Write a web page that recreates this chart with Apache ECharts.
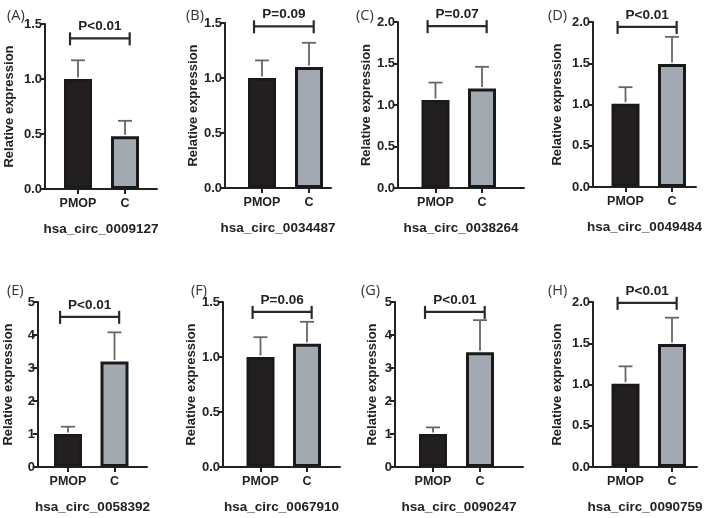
<!DOCTYPE html>
<html>
<head>
<meta charset="utf-8">
<script src="https://cdn.jsdelivr.net/npm/echarts@6/dist/echarts.min.js"></script>
<style>html,body{margin:0;padding:0;background:#fff;}#c{width:709px;height:518px;}</style>
</head>
<body>
<div id="c"></div>
<script>
// ---- data ----
const panelLabels = ['(A)', '(B)', '(C)', '(D)', '(E)', '(F)', '(G)', '(H)'];
const genes = ['hsa_circ_0009127', 'hsa_circ_0034487', 'hsa_circ_0038264', 'hsa_circ_0049484',
               'hsa_circ_0058392', 'hsa_circ_0067910', 'hsa_circ_0090247', 'hsa_circ_0090759'];
const groups = ['PMOP', 'C'];
const pmopMean = [1.00, 1.00, 1.06, 1.01, 1.00, 1.00, 1.00, 1.01];
const pmopErr  = [0.17, 0.16, 0.21, 0.20, 0.22, 0.18, 0.20, 0.21];
const cMean    = [0.48, 1.10, 1.20, 1.49, 3.20, 1.12, 3.48, 1.49];
const cErr     = [0.14, 0.22, 0.26, 0.33, 0.88, 0.20, 0.97, 0.32];
const pValues  = ['P<0.01', 'P=0.09', 'P=0.07', 'P<0.01', 'P<0.01', 'P=0.06', 'P<0.01', 'P<0.01'];
const yMax     = [1.5, 1.5, 2, 2, 5, 1.5, 5, 2];
const yStep    = [0.5, 0.5, 0.5, 0.5, 1, 0.5, 1, 0.5];
const bracketLevel = [1.37, 1.47, 1.95, 1.94, 4.55, 1.41, 4.70, 1.99];
const bracketSpan = [-0.17, 1.1];

// ---- layout (pixels) ----
// axisLeft, axisRight, top, bottom, PMOP centre, C centre, y-name gap
const layout = [
  [45, 157, 24, 189, 78, 125, 29],
  [225, 331, 23, 188, 262, 309, 24.5],
  [398, 524, 22, 188, 435.5, 482, 24],
  [593, 696, 22, 187, 625.5, 672, 29],
  [38, 147, 302, 467, 68, 114.5, 23],
  [223, 340, 302, 467, 260.5, 307, 24],
  [395, 523, 302, 467, 433, 480, 16],
  [593, 697, 302, 467, 625.5, 672, 29]
];
const labelPos = [[2, 3], [181, 3], [351, 3], [543, 3], [2, 278], [186, 278], [356, 278], [543, 278]];

const FONT = 'Liberation Sans, Arial, sans-serif';
const chart = echarts.init(document.getElementById('c'), null, {renderer: 'canvas'});

const grids = [], xAxes = [], yAxes = [], series = [], titles = [];
for (let i = 0; i < 8; i++) {
  const [L, R, T, B, p, c, yGap] = layout[i];
  const unit = c - p;
  grids.push({left: L, top: T, width: R - L, height: B - T, containLabel: false});
  const dec = yStep[i] < 1 ? 1 : 0;
  xAxes.push({
    type: 'value', gridIndex: i,
    min: -(p - L) / unit, max: 1 + (R - c) / unit,
    splitLine: {show: false},
    axisLine: {show: true, onZero: false, lineStyle: {color: '#222', width: 2}},
    axisTick: {show: true, customValues: [0, 1], length: 5, lineStyle: {color: '#222', width: 2}},
    axisLabel: {show: true, customValues: [0, 1], formatter: v => groups[Math.round(v)],
      color: '#222', fontFamily: FONT, fontWeight: 'bold', fontSize: 12.5, margin: 8},
    name: genes[i], nameLocation: 'middle', nameGap: 33,
    nameTextStyle: {color: '#222', fontFamily: FONT, fontWeight: 'bold', fontSize: 13.5}
  });
  yAxes.push({
    type: 'value', gridIndex: i, min: 0, max: yMax[i], interval: yStep[i],
    splitLine: {show: false},
    axisLine: {show: true, onZero: false, lineStyle: {color: '#222', width: 2}},
    axisTick: {show: true, length: 5, lineStyle: {color: '#222', width: 2}},
    axisLabel: {formatter: v => v.toFixed(dec), color: '#222', fontFamily: FONT,
      fontWeight: 'bold', fontSize: 13, margin: 3},
    name: 'Relative expression', nameLocation: 'middle', nameGap: yGap,
    nameTextStyle: {color: '#222', fontFamily: FONT, fontWeight: 'bold', fontSize: 13}
  });
  series.push({
    type: 'bar', xAxisIndex: i, yAxisIndex: i, barWidth: 28,
    data: [
      {value: [0, pmopMean[i]], itemStyle: {color: '#231f20', borderColor: '#1a1a1a', borderWidth: 3}},
      {value: [1, cMean[i]], itemStyle: {color: '#a2a9b3', borderColor: '#1a1a1a', borderWidth: 3}}
    ],
    silent: true
  });
  series.push({
    type: 'custom', xAxisIndex: i, yAxisIndex: i, clip: false, silent: true,
    data: [[0, pmopMean[i], pmopMean[i] + pmopErr[i]], [1, cMean[i], cMean[i] + cErr[i]]],
    encode: {x: 0, y: [1, 2]},
    renderItem: function (params, api) {
      const base = api.coord([api.value(0), api.value(1)]);
      const top = api.coord([api.value(0), api.value(2)]);
      const st = {stroke: '#666', lineWidth: 1.8};
      return {type: 'group', children: [
        {type: 'line', shape: {x1: base[0], y1: base[1] - 1.5, x2: top[0], y2: top[1]}, style: st},
        {type: 'line', shape: {x1: top[0] - 7, y1: top[1], x2: top[0] + 7, y2: top[1]}, style: st}
      ]};
    }
  });
  series.push({
    type: 'custom', xAxisIndex: i, yAxisIndex: i, clip: false, silent: true,
    data: [[bracketSpan[0], bracketSpan[1], bracketLevel[i]]],
    encode: {x: [0, 1], y: 2},
    renderItem: function (params, api) {
      const a = api.coord([api.value(0), api.value(2)]);
      const b = api.coord([api.value(1), api.value(2)]);
      const st = {stroke: '#2a2a2a', lineWidth: 2.2};
      return {type: 'group', children: [
        {type: 'line', shape: {x1: a[0], y1: a[1], x2: b[0], y2: b[1]}, style: st},
        {type: 'line', shape: {x1: a[0], y1: a[1] - 6, x2: a[0], y2: a[1] + 7}, style: st},
        {type: 'line', shape: {x1: b[0], y1: b[1] - 6, x2: b[0], y2: b[1] + 7}, style: st},
        {type: 'text', style: {text: pValues[i], x: (a[0] + b[0]) / 2, y: a[1] - 5,
          textAlign: 'center', textVerticalAlign: 'bottom', fill: '#222',
          font: 'bold 13.5px ' + FONT}}
      ]};
    }
  });
  titles.push({text: panelLabels[i], left: labelPos[i][0], top: labelPos[i][1],
    textStyle: {fontFamily: 'Open Sans, Noto Sans, sans-serif', fontWeight: 'normal', fontSize: 14.5, color: '#333'}});
}

chart.setOption({
  animation: false,
  backgroundColor: '#fff',
  title: titles,
  grid: grids,
  xAxis: xAxes,
  yAxis: yAxes,
  series: series
});
</script>
</body>
</html>
